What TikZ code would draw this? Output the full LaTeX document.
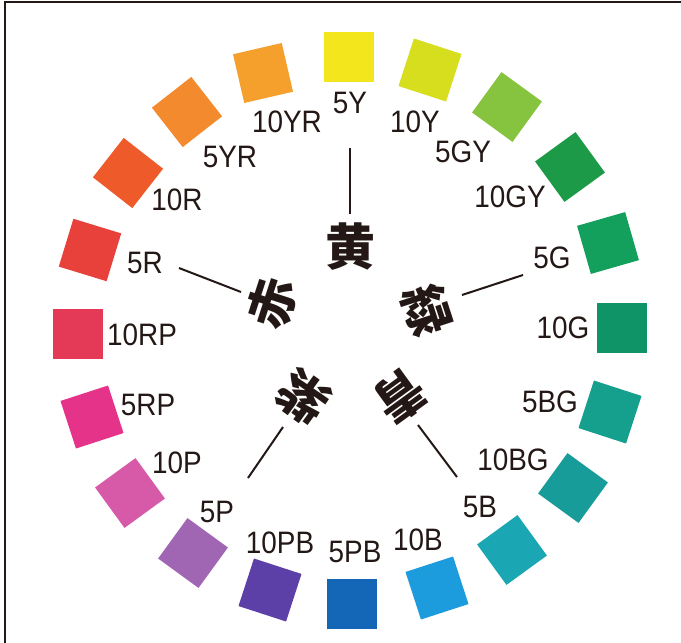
\documentclass[tikz,border=0pt]{standalone}
\usepackage{fontspec}
\setmainfont{Liberation Sans}
\newfontfamily\cjk{Noto Sans CJK JP}
\definecolor{ink}{HTML}{231815}
\definecolor{c5Y}{HTML}{F4E61C}
\definecolor{c10Y}{HTML}{D6DE1E}
\definecolor{c5GY}{HTML}{86C440}
\definecolor{c10GY}{HTML}{1C9A48}
\definecolor{c5G}{HTML}{12A05C}
\definecolor{c10G}{HTML}{0E9466}
\definecolor{c5BG}{HTML}{15A08E}
\definecolor{c10BG}{HTML}{189C9A}
\definecolor{c5B}{HTML}{1AA6B2}
\definecolor{c10B}{HTML}{1C9CDC}
\definecolor{c5PB}{HTML}{1466B6}
\definecolor{c10PB}{HTML}{5C40A8}
\definecolor{c5P}{HTML}{A066B4}
\definecolor{c10P}{HTML}{D65AA8}
\definecolor{c5RP}{HTML}{E6338A}
\definecolor{c10RP}{HTML}{E43A58}
\definecolor{c5R}{HTML}{E8403A}
\definecolor{c10R}{HTML}{EE5A2A}
\definecolor{c5YR}{HTML}{F38A2E}
\definecolor{c10YR}{HTML}{F5A02C}
\tikzset{
  swatch/.style={draw=none, minimum size=50pt, inner sep=0pt, outer sep=0pt},
  lbl/.style={inner sep=0pt, text=ink, font=\fontsize{31}{31}\selectfont, xscale=0.9},
  kanji/.style={inner sep=0pt, text=ink, font=\cjk\bfseries\fontsize{50}{50}\selectfont},
  spoke/.style={draw=ink, line width=2pt},
  frameline/.style={draw=ink, line width=2pt}
}
\begin{document}
\begin{tikzpicture}[x=1pt,y=-1pt]
\useasboundingbox (0,0) rectangle (681,643);
% frame (top and left only)
\coordinate (ftl) at (4.5,1.5);
\coordinate (ftr) at (681,1.5);
\coordinate (fbl) at (4.5,643);
\draw[frameline] (ftr) -- (ftl) -- (fbl);
% swatches
\node[swatch, fill=c5Y,   rotate=0]   (s5Y)   at (349,57)  {};
\node[swatch, fill=c10Y,  rotate=-18] (s10Y)  at (430,70)  {};
\node[swatch, fill=c5GY,  rotate=-36] (s5GY)  at (507,107) {};
\node[swatch, fill=c10GY, rotate=36]  (s10GY) at (570,167) {};
\node[swatch, fill=c5G,   rotate=16]  (s5G)   at (608,243) {};
\node[swatch, fill=c10G,  rotate=0]   (s10G)  at (622,328) {};
\node[swatch, fill=c5BG,  rotate=-18] (s5BG)  at (610,412) {};
\node[swatch, fill=c10BG, rotate=-36] (s10BG) at (573,488) {};
\node[swatch, fill=c5B,   rotate=36]  (s5B)   at (512,550) {};
\node[swatch, fill=c10B,  rotate=18]  (s10B)  at (437,588) {};
\node[swatch, fill=c5PB,  rotate=0]   (s5PB)  at (352,604) {};
\node[swatch, fill=c10PB, rotate=-18] (s10PB) at (270,590) {};
\node[swatch, fill=c5P,   rotate=-36] (s5P)   at (193,553) {};
\node[swatch, fill=c10P,  rotate=36]  (s10P)  at (130,493) {};
\node[swatch, fill=c5RP,  rotate=18]  (s5RP)  at (92,417)  {};
\node[swatch, fill=c10RP, rotate=0]   (s10RP) at (78,334)  {};
\node[swatch, fill=c5R,   rotate=-17] (s5R)   at (90,250)  {};
\node[swatch, fill=c10R,  rotate=-38] (s10R)  at (128,173) {};
\node[swatch, fill=c5YR,  rotate=38]  (s5YR)  at (187,112) {};
\node[swatch, fill=c10YR, rotate=13]  (s10YR) at (263,73)  {};
% labels
\node[lbl] (l5Y)   at (350,103) {5Y};
\node[lbl] (l10Y)  at (415,122) {10Y};
\node[lbl] (l5GY)  at (463,152) {5GY};
\node[lbl] (l10GY) at (510,197) {10GY};
\node[lbl] (l5G)   at (552,258) {5G};
\node[lbl] (l10G)  at (563,328) {10G};
\node[lbl] (l5BG)  at (550,402) {5BG};
\node[lbl] (l10BG) at (513,460) {10BG};
\node[lbl] (l5B)   at (480,507) {5B};
\node[lbl] (l10B)  at (418,540) {10B};
\node[lbl] (l5PB)  at (355,552) {5PB};
\node[lbl] (l10PB) at (280,543) {10PB};
\node[lbl] (l5P)   at (217,512) {5P};
\node[lbl] (l10P)  at (177,463) {10P};
\node[lbl] (l5RP)  at (148,405) {5RP};
\node[lbl] (l10RP) at (142,335) {10RP};
\node[lbl] (l5R)   at (145,263) {5R};
\node[lbl] (l10R)  at (177,200) {10R};
\node[lbl] (l5YR)  at (230,157) {5YR};
\node[lbl] (l10YR) at (287,122) {10YR};
% kanji
\node[kanji, rotate=0]    (kY) at (350,247) {黄};
\node[kanji, rotate=-72]  (kG) at (427,310) {緑};
\node[kanji, rotate=-144] (kB) at (400,397) {青};
\node[kanji, rotate=144]  (kP) at (303,397) {紫};
\node[kanji, rotate=72]   (kR) at (272,303) {赤};
% spokes
\coordinate (aY1) at (350,148); \coordinate (aY2) at (350,214);
\coordinate (aR1) at (179,268); \coordinate (aR2) at (241,292);
\coordinate (aG1) at (462,295); \coordinate (aG2) at (523,275);
\coordinate (aB1) at (418,425); \coordinate (aB2) at (457,477);
\coordinate (aP1) at (283,427); \coordinate (aP2) at (248,478);
\draw[spoke] (aY1) -- (aY2);
\draw[spoke] (aR1) -- (aR2);
\draw[spoke] (aG1) -- (aG2);
\draw[spoke] (aB1) -- (aB2);
\draw[spoke] (aP1) -- (aP2);
\end{tikzpicture}
\end{document}
